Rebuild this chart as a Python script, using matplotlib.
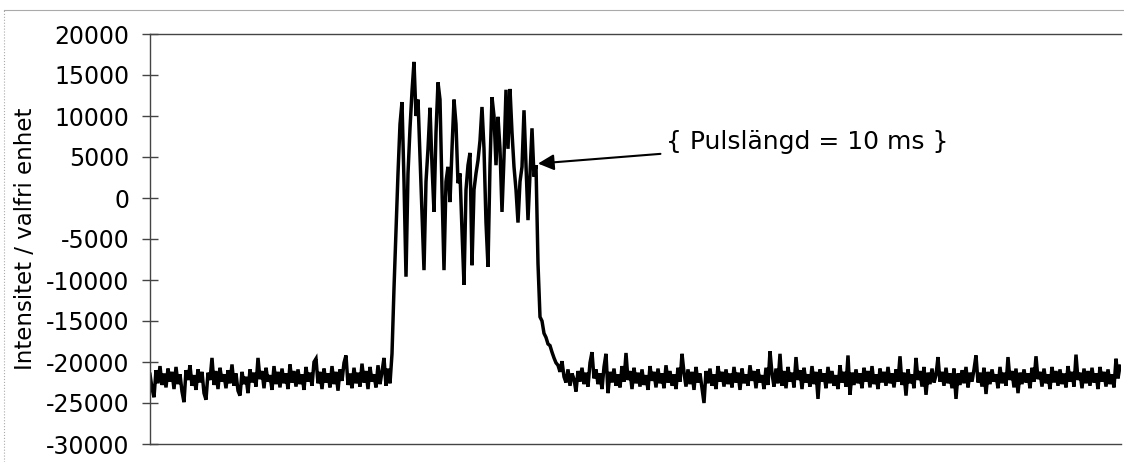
import matplotlib
matplotlib.use("Agg")
import matplotlib.pyplot as plt
import numpy as np

# signal, in units of 100 (one sample every ~0.135 ms)
pre_pulse = [
    -215, -232, -243, -210, -226, -205, -228, -214, -231, -208,
    -224, -212, -233, -206, -227, -215, -236, -249, -210, -222,
    -204, -229, -216, -234, -209, -225, -212, -238, -246, -213,
    -222, -195, -228, -211, -233, -207, -224, -215, -232, -210,
    -226, -203, -229, -214, -235, -241, -212, -227, -218, -238,
    -209, -225, -213, -230, -195, -221, -211, -232, -207, -224,
    -216, -234, -205, -227, -212, -231, -208, -226, -214, -233,
    -203, -225, -211, -230, -209, -227, -215, -234, -206, -224,
    -213, -229, -200, -196, -226, -212, -233, -208, -225, -214,
    -231, -205, -227, -212, -235, -209, -223, -201, -192, -228,
    -214, -232, -207, -226, -213, -230, -202, -225, -211, -233,
    -206, -224, -215, -231, -204, -227, -212, -195, -229, -208,
    -226,
]
pulse = [
    -190, -110, -40, 30, 90, 117, 20, -96, 30, 85,
    130, 166, 100, 120, 50, -20, -88, 20, 60, 110,
    40, -17, 80, 141, 120, 10, -88, 20, 38, -5,
    60, 120, 90, 18, 30, -40, -106, 10, 40, 55,
    -82, 10, 30, 46, 70, 111, 60, -30, -84, 40,
    123, 100, 40, 99, 60, -17, 50, 132, 60, 133,
    80, 38, 10, -30, 20, 38, 107, 40, -27, 30,
    85, 26, 40, -80, -145, -150, -165, -170, -178, -180,
    -188, -195, -201,
]
post_pulse = [
    -204, -212, -199, -218, -225, -209, -229, -214, -221, -236,
    -211, -224, -207, -227, -213, -230, -201, -188, -220, -209,
    -227, -214, -233, -206, -190, -238, -212, -225, -208, -229,
    -215, -231, -205, -224, -189, -222, -211, -233, -207, -226,
    -213, -230, -209, -228, -216, -234, -205, -223, -212, -231,
    -208, -226, -214, -232, -204, -225, -211, -229, -215, -233,
    -207, -224, -190, -213, -230, -209, -227, -212, -234, -206,
    -225, -214, -232, -250, -211, -226, -208, -229, -215, -233,
    -205, -224, -212, -230, -209, -227, -214, -231, -206, -225,
    -213, -234, -208, -226, -215, -229, -204, -223, -211, -232,
    -209, -225, -216, -233, -207, -228, -187, -214, -230, -208,
    -226, -190, -229, -211, -232, -206, -224, -213, -231, -194,
    -222, -210, -233, -207, -225, -215, -230, -205, -227, -212,
    -245, -209, -224, -214, -232, -206, -226, -211, -229, -216,
    -233, -204, -225, -212, -230, -192, -240, -213, -228, -209,
    -226, -214, -232, -207, -224, -211, -231, -205, -227, -215,
    -233, -208, -225, -212, -229, -206, -226, -214, -231, -209,
    -224, -193, -228, -213, -241, -209, -226, -215, -232, -195,
    -222, -211, -230, -206, -240, -213, -227, -208, -225, -216,
    -194, -224, -212, -229, -207, -226, -214, -232, -208, -245,
    -214, -228, -210, -226, -206, -231, -213, -224, -209, -192,
    -225, -213, -230, -207, -239, -212, -227, -209, -224, -215,
    -232, -206, -226, -213, -229, -194, -222, -211, -231, -208,
    -238, -213, -227, -209, -225, -214, -232, -207, -224, -193,
    -221, -212, -230, -208, -226, -215, -233, -206, -225, -211,
    -229, -209, -227, -214, -231, -205, -224, -212, -230, -191,
    -222, -213, -232, -208, -226, -211, -229, -207, -225, -214,
    -233, -206, -224, -212, -230, -209, -227, -215, -231, -196,
    -220, -205,
]
y_ticks = [20000, 15000, 10000, 5000, 0, -5000, -10000, -15000, -20000, -25000, -30000]

signal = np.array(pre_pulse + pulse + post_pulse) * 100.0
t = np.arange(len(signal))

fig = plt.figure(figsize=(11.24, 4.62), dpi=100)
ax = fig.add_axes([150 / 1124, 18 / 462, 971 / 1124, 410 / 462])

ax.plot(t, signal, color="black", lw=2.5, solid_joinstyle="miter")

ax.set_xlim(0, 485.5)
ax.set_ylim(-30000, 20000)
ax.set_yticks(y_ticks)
ax.set_yticklabels([str(v) for v in y_ticks], fontsize=17)
ax.set_xticks([])
ax.tick_params(axis="y", direction="inout", length=12, width=1, color="#444444", pad=9)
ax.set_ylabel("Intensitet / valfri enhet", fontsize=16.5)
ax.yaxis.set_label_coords(-0.116, 0.5)

for side in ["left", "top", "bottom"]:
    ax.spines[side].set_color("#444444")
    ax.spines[side].set_linewidth(1)
ax.spines["right"].set_visible(False)

ax.annotate("{ Pulslängd = 10 ms }", xy=(194, 4200), xytext=(258, 6800),
            xycoords="data", textcoords="data",
            fontsize=18, ha="left", va="center",
            arrowprops=dict(arrowstyle="-|>", color="black", lw=1.5,
                            mutation_scale=24, shrinkA=2, shrinkB=0))

# faint outer chart frame
fig.add_artist(plt.Line2D([4 / 1124, 4 / 1124], [0, 1 - 10 / 462], color="#aaaaaa", lw=0.8, ls=":"))
fig.add_artist(plt.Line2D([4 / 1124, 1], [1 - 10 / 462, 1 - 10 / 462], color="#aaaaaa", lw=0.8))

fig.savefig("out.png", dpi=100)
